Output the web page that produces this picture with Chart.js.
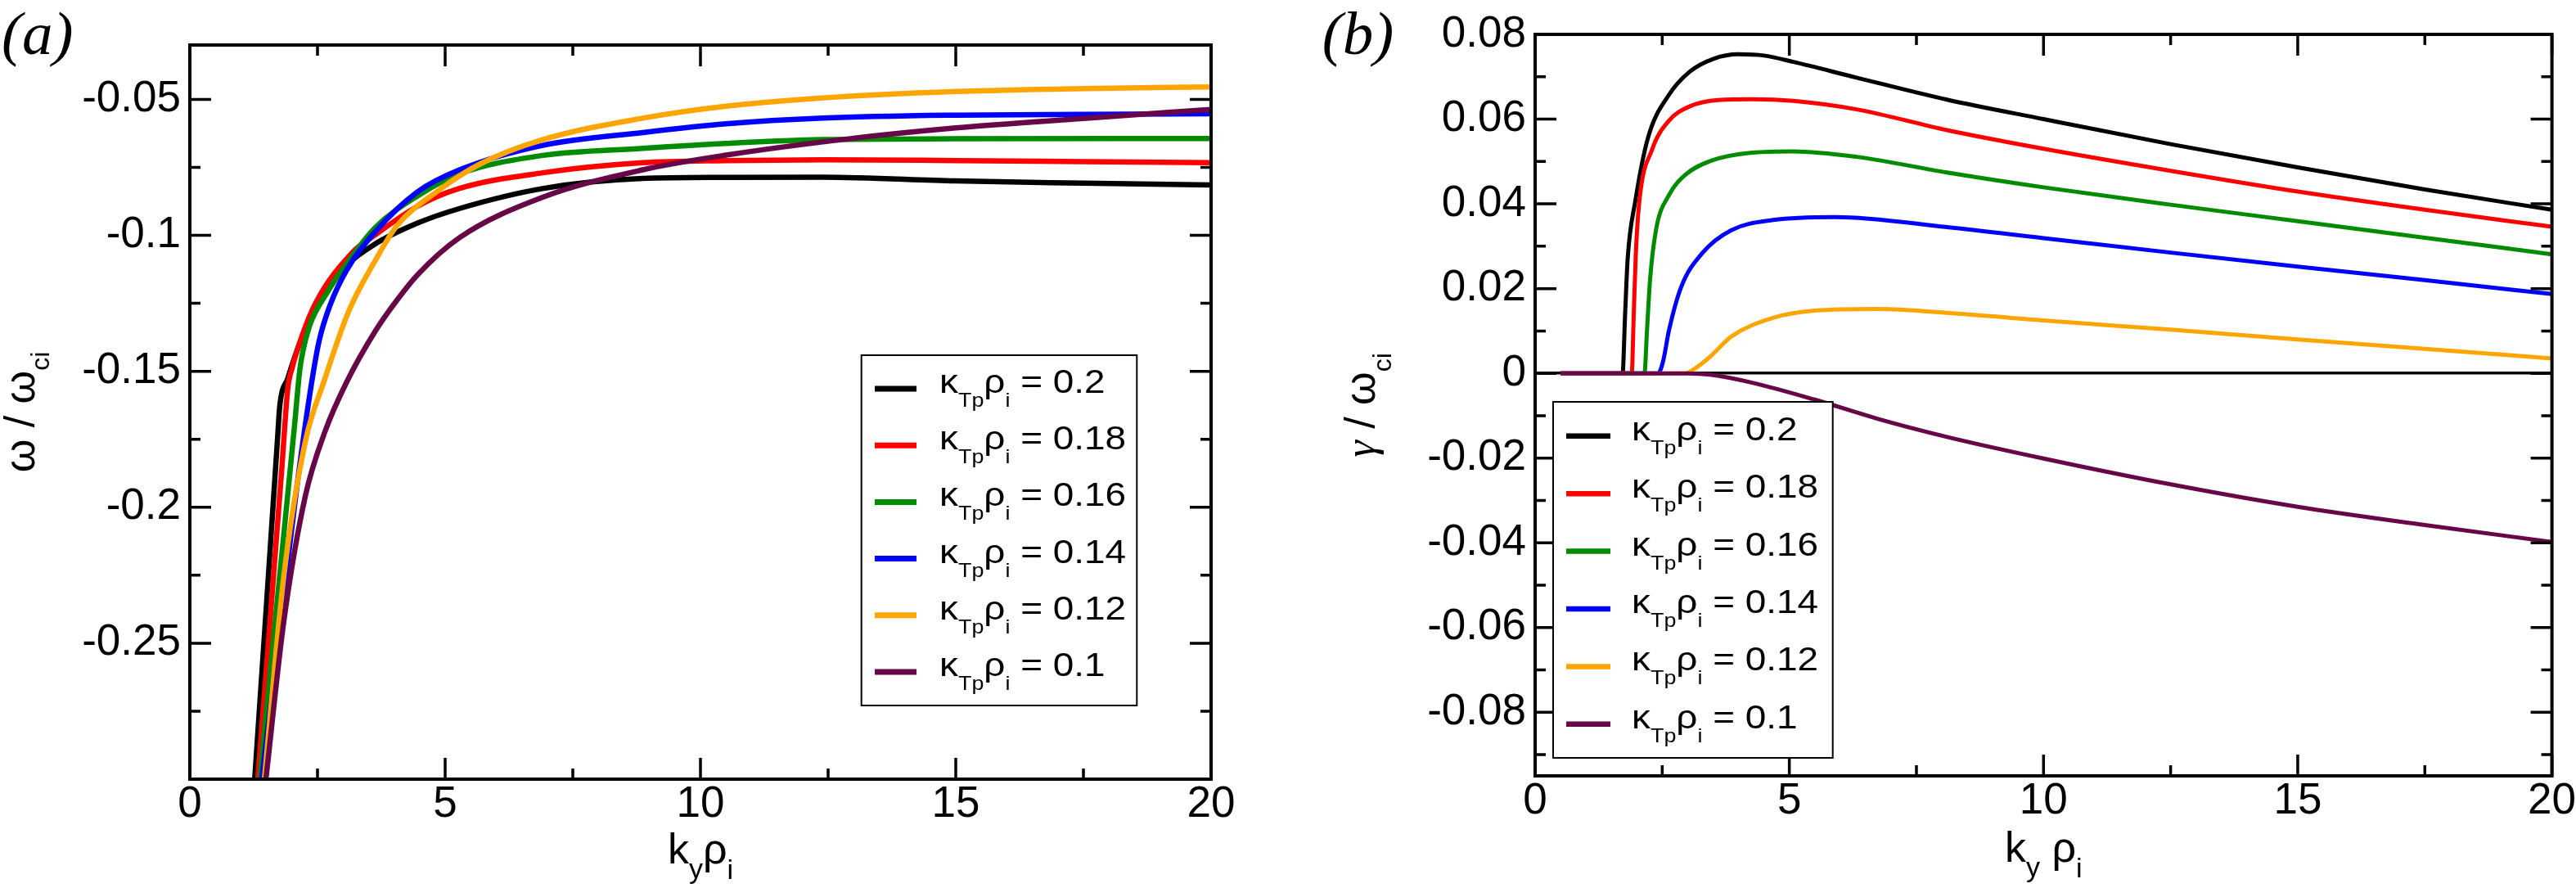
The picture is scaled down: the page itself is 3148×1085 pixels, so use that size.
<!DOCTYPE html>
<html>
<head>
<meta charset="utf-8">
<script src="https://cdn.jsdelivr.net/npm/chart.js@4.4.1/dist/chart.umd.min.js"></script>
<style>
html, body { margin: 0; padding: 0; background: #fff; overflow: hidden; }
#wrap { position: relative; width: 3148px; height: 1085px; }
canvas { position: absolute; top: 0; }
#panelA { left: 0; }
#panelB { left: 1574px; }
</style>
</head>
<body>
<div id="wrap">
    <canvas id="panelA" width="1574" height="1085"></canvas>
    <canvas id="panelB" width="1574" height="1085"></canvas>
</div>
<script>
// kappa_Tp rho_i of each curve, and its colour
var kappaLabels = ['0.2', '0.18', '0.16', '0.14', '0.12', '0.1'];
var lineColors = ['#000000', '#ff0000', '#008b00', '#0000ff', '#ffa500', '#670748'];

// tick marks
var xTicks = [0, 5, 10, 15, 20];
var xMinor = [2.5, 7.5, 12.5, 17.5];
var yTicksA = [-0.25, -0.2, -0.15, -0.1, -0.05];
var yMinorA = [-0.275, -0.225, -0.175, -0.125, -0.075];
var yTicksB = [-0.08, -0.06, -0.04, -0.02, 0, 0.02, 0.04, 0.06, 0.08];
var yMinorB = [-0.09, -0.07, -0.05, -0.03, -0.01, 0.01, 0.03, 0.05, 0.07];

// (a) real frequency omega / omega_ci against k_y rho_i
var kA_020 = [1.27, 1.5, 1.72, 1.76, 1.92, 2.16, 2.53, 3.07, 3.6, 4.46, 5.27, 6.91, 8.87, 10.5, 12.4, 15, 17.5, 20];
var wA_020 = [-0.300, -0.236, -0.174, -0.163, -0.1525, -0.1393, -0.1243, -0.111, -0.1035, -0.0955, -0.0902, -0.0828, -0.0791, -0.0787, -0.0786, -0.0800, -0.0808, -0.0815];
var kA_018 = [1.33, 1.55, 1.8, 1.92, 2.0, 2.2, 2.48, 3.2, 3.64, 4.46, 5.27, 6.91, 8.87, 10.5, 12.4, 15, 17.5, 20];
var wA_018 = [-0.300, -0.247, -0.186, -0.156, -0.149, -0.1368, -0.1243, -0.106, -0.0997, -0.0893, -0.0828, -0.077, -0.0733, -0.0725, -0.0722, -0.0725, -0.0729, -0.0733];
var kA_016 = [1.37, 1.75, 2.05, 2.15, 2.2, 2.35, 2.69, 3.11, 3.64, 4.46, 5.27, 6.91, 8.87, 10.5, 12.4, 15, 20];
var wA_016 = [-0.300, -0.227, -0.170, -0.150, -0.144, -0.133, -0.121, -0.1094, -0.0970, -0.0855, -0.0775, -0.0706, -0.068, -0.0662, -0.0648, -0.0645, -0.0644];
var kA_014 = [1.41, 1.75, 2.1, 2.37, 2.53, 2.74, 3.07, 3.64, 4.46, 5.27, 6.91, 8.87, 10.5, 12.4, 15, 17.5, 20];
var wA_014 = [-0.300, -0.246, -0.192, -0.156, -0.139, -0.126, -0.1128, -0.0985, -0.0840, -0.0760, -0.0669, -0.0622, -0.059, -0.0569, -0.0558, -0.0555, -0.0553];
var kA_012 = [1.46, 1.84, 2.26, 2.64, 3.11, 3.64, 4.05, 4.87, 5.68, 6.91, 8.87, 10.5, 12.37, 15, 17.5, 20];
var wA_012 = [-0.300, -0.2255, -0.176, -0.153, -0.128, -0.109, -0.0966, -0.0835, -0.0738, -0.0648, -0.0569, -0.0525, -0.0495, -0.0471, -0.046, -0.0454];
var kA_010 = [1.49, 1.84, 2.26, 2.65, 3.07, 3.64, 4.05, 4.46, 5.27, 6.91, 8.87, 10.5, 12.9, 15, 17.5, 20];
var wA_010 = [-0.300, -0.242, -0.196, -0.172, -0.154, -0.135, -0.124, -0.1145, -0.101, -0.086, -0.0759, -0.0705, -0.0645, -0.0605, -0.057, -0.0537];

// (b) growth rate gamma / omega_ci against k_y rho_i
var kB_020 = [0.5, 1.72, 1.77, 1.82, 1.97, 2.22, 2.63, 3.04, 3.5, 4.0, 4.5, 5.08, 6.32, 8.1, 10, 12.5, 15, 17.5, 20];
var gB_020 = [0, 0, 0.014, 0.027, 0.0406, 0.0556, 0.0657, 0.0712, 0.0742, 0.0753, 0.075, 0.0735, 0.0698, 0.0646, 0.06, 0.0541, 0.0486, 0.0434, 0.0386];
var kB_018 = [0.5, 1.9, 1.94, 1.98, 2.05, 2.3, 2.63, 3.04, 3.6, 4.27, 5.08, 6.32, 8.1, 10, 12.5, 15, 17.5, 20];
var gB_018 = [0, 0, 0.014, 0.028, 0.0406, 0.0528, 0.0596, 0.063, 0.0645, 0.0647, 0.0643, 0.0623, 0.0574, 0.053, 0.0478, 0.0429, 0.0386, 0.0346];
var kB_016 = [0.5, 2.15, 2.2, 2.26, 2.38, 2.63, 2.95, 3.44, 4.27, 5.08, 6.32, 8.1, 10, 12.5, 15, 17.5, 20];
var gB_016 = [0, 0, 0.01, 0.022, 0.034, 0.042, 0.0468, 0.0501, 0.0521, 0.0524, 0.0511, 0.0474, 0.0439, 0.0398, 0.0359, 0.032, 0.0281];
var kB_014 = [0.5, 2.42, 2.52, 2.63, 2.87, 3.29, 3.86, 4.68, 5.9, 8.1, 10, 12.5, 15, 17.5, 20];
var gB_014 = [0, 0, 0.003, 0.01, 0.0203, 0.0284, 0.0338, 0.0362, 0.0369, 0.0345, 0.0319, 0.0285, 0.0252, 0.022, 0.0187];
var kB_012 = [0.5, 2.95, 3.1, 3.44, 3.86, 4.68, 5.5, 6.73, 8.1, 10, 12.5, 15, 17.5, 20];
var gB_012 = [0, 0, 0.0008, 0.0039, 0.0087, 0.0131, 0.0148, 0.0152, 0.0143, 0.0125, 0.0103, 0.008, 0.0058, 0.0035];
var kB_010 = [0.5, 3.0, 3.44, 4.27, 5.5, 6.73, 8.1, 10, 12.5, 15, 17.5, 20];
var gB_010 = [0, 0, -0.0003, -0.0022, -0.0062, -0.0107, -0.015, -0.0201, -0.0262, -0.0315, -0.0358, -0.0398];

var SANS = '"Liberation Sans", Arial, sans-serif';
var SERIF = '"Liberation Serif", "Times New Roman", serif';
Chart.defaults.font.family = SANS;
Chart.defaults.color = '#000';

function pairs(k, v) {
    return k.map(function (x, i) { return {x: x, y: v[i]}; });
}

function makeSets(kList, vList, width) {
    return kList.map(function (k, i) {
        return {
            label: 'κTpρi = ' + kappaLabels[i],
            data: pairs(k, vList[i]),
            borderColor: lineColors[i],
            borderWidth: width,
            pointRadius: 0,
            fill: false,
            cubicInterpolationMode: 'monotone',
            clip: 0,
            order: kList.length - i
        };
    });
}

// text with sub scripts: parts = [text, font, baseline shift]
function drawRich(ctx, parts, x, y, align, sx, rot) {
    var w = 0;
    parts.forEach(function (p) { ctx.font = p[1]; w += ctx.measureText(p[0]).width; });
    ctx.save();
    ctx.translate(x, y);
    if (rot) ctx.rotate(rot);
    ctx.scale(sx || 1, 1);
    ctx.textAlign = 'left';
    ctx.textBaseline = 'alphabetic';
    ctx.fillStyle = '#000';
    var cx = align === 'center' ? -w / 2 : 0;
    parts.forEach(function (p) {
        ctx.font = p[1];
        ctx.fillText(p[0], cx, p[2]);
        cx += ctx.measureText(p[0]).width;
    });
    ctx.restore();
}

var decor = {
    id: 'decor',
    afterDatasetsDraw: function (chart, args, o) {
        var ctx = chart.ctx, a = chart.chartArea;
        var xs = chart.scales.x, ys = chart.scales.y;
        ctx.save();
        ctx.strokeStyle = '#000';
        ctx.lineWidth = 3.5;
        ctx.beginPath();
        function xt(v, len) {
            var p = xs.getPixelForValue(v);
            ctx.moveTo(p, a.bottom); ctx.lineTo(p, a.bottom - len);
            ctx.moveTo(p, a.top); ctx.lineTo(p, a.top + len);
        }
        function yt(v, len) {
            var p = ys.getPixelForValue(v);
            ctx.moveTo(a.left, p); ctx.lineTo(a.left + len, p);
            ctx.moveTo(a.right, p); ctx.lineTo(a.right - len, p);
        }
        xTicks.forEach(function (v) { xt(v, 26); });
        xMinor.forEach(function (v) { xt(v, 13); });
        o.yMajor.forEach(function (v) { yt(v, 26); });
        o.yMinor.forEach(function (v) { yt(v, 13); });
        ctx.stroke();

        ctx.lineWidth = 4;
        ctx.strokeRect(a.left, a.top, a.right - a.left, a.bottom - a.top);

        // legend box
        var L = o.legend;
        ctx.fillStyle = '#fff';
        ctx.fillRect(L.x, L.y, L.w, L.h);
        ctx.lineWidth = 2;
        ctx.strokeRect(L.x, L.y, L.w, L.h);
        var main = '41px ' + SANS, sub = '24px ' + SANS;
        kappaLabels.forEach(function (lab, i) {
            var ry = L.row0 + i * L.step;
            ctx.strokeStyle = lineColors[i];
            ctx.lineWidth = L.lw;
            ctx.beginPath();
            ctx.moveTo(L.l0, ry); ctx.lineTo(L.l1, ry);
            ctx.stroke();
            drawRich(ctx, [['κ', main, 0], ['Tp', sub, 17], ['ρ', main, 0], ['i', sub, 17], [' = ' + lab, main, 0]],
                L.tx, ry + 5, 'left', 1.12);
        });

        // axis titles and panel letter
        var T = o.titles;
        drawRich(ctx, [['(' + T.letter + ')', 'italic 75px ' + SERIF, 0]], T.lx, 66, 'left');
        drawRich(ctx, T.x, (a.left + a.right) / 2, T.xy, 'center');
        drawRich(ctx, T.y, T.yx, (a.top + a.bottom) / 2, 'center', 1, -Math.PI / 2);
        ctx.restore();
    }
};

function noPad(s) {
    s.paddingLeft = 0; s.paddingRight = 0; s.paddingTop = 0; s.paddingBottom = 0;
}

function makePanel(id, cfg) {
    return new Chart(document.getElementById(id), {
        type: 'line',
        data: {datasets: cfg.datasets},
        options: {
            responsive: false,
            animation: false,
            devicePixelRatio: 1,
            layout: {padding: cfg.pad},
            plugins: {legend: {display: false}, tooltip: {enabled: false}, decor: cfg.decor},
            scales: {
                x: {
                    type: 'linear', min: 0, max: 20,
                    afterBuildTicks: function (s) { s.ticks = xTicks.map(function (v) { return {value: v}; }); },
                    afterFit: function (s) { s.height = cfg.xh; noPad(s); },
                    grid: {display: false, drawTicks: false},
                    border: {display: false},
                    ticks: {font: {size: 53}, color: '#000', padding: 0, maxRotation: 0, autoSkip: false,
                        callback: function (v) { return String(v); }}
                },
                y: {
                    type: 'linear', min: cfg.ymin, max: cfg.ymax,
                    afterBuildTicks: function (s) { s.ticks = cfg.yTicks.map(function (v) { return {value: v}; }); },
                    afterFit: function (s) { s.width = cfg.yw; noPad(s); },
                    grid: {
                        display: cfg.zeroLine, drawTicks: false, lineWidth: 3.5,
                        color: function (c) { return c.tick && c.tick.value === 0 ? '#000' : 'rgba(0,0,0,0)'; }
                    },
                    border: {display: false},
                    ticks: {font: {size: 53}, color: '#000', padding: 11, autoSkip: false,
                        callback: function (v) { return String(v); }}
                }
            }
        },
        plugins: [decor]
    });
}

var big = '52px ' + SANS, small = '34px ' + SANS;

makePanel('panelA', {
    datasets: makeSets([kA_020, kA_018, kA_016, kA_014, kA_012, kA_010],
        [wA_020, wA_018, wA_016, wA_014, wA_012, wA_010], 6.5),
    pad: {left: 0, top: 55, right: 94, bottom: 0},
    xh: 133, yw: 232, ymin: -0.30, ymax: -0.03, yTicks: yTicksA, zeroLine: false,
    decor: {
        yMajor: yTicksA, yMinor: yMinorA,
        legend: {x: 1052.7, y: 434, w: 336.6, h: 428, l0: 1069, l1: 1120, tx: 1148, row0: 475, step: 69.2, lw: 7},
        titles: {
            letter: 'a', lx: 2,
            x: [['k', big, 0], ['y', small, 18], ['ρ', big, 0], ['i', small, 19]], xy: 1055,
            y: [['ω / ω', big, 0], ['ci', '32px ' + SANS, 18]], yx: 42
        }
    }
});

makePanel('panelB', {
    datasets: makeSets([kB_020, kB_018, kB_016, kB_014, kB_012, kB_010],
        [gB_020, gB_018, gB_016, gB_014, gB_012, gB_010], 5),
    pad: {left: 0, top: 42, right: 29.4, bottom: 0},
    xh: 137, yw: 302, ymin: -0.095, ymax: 0.08, yTicks: yTicksB, zeroLine: true,
    decor: {
        yMajor: yTicksB, yMinor: yMinorB,
        legend: {x: 324, y: 491, w: 341.7, h: 435, l0: 340, l1: 394, tx: 420, row0: 532.8, step: 70.4, lw: 6.5},
        titles: {
            letter: 'b', lx: 41.7,
            x: [['k', big, 0], ['y', small, 18], [' ρ', big, 0], ['i', small, 19]], xy: 1053,
            y: [['γ', 'italic 52px ' + SERIF, 0], [' / ω', big, 0], ['ci', '32px ' + SANS, 20]], yx: 106
        }
    }
});
</script>
</body>
</html>
